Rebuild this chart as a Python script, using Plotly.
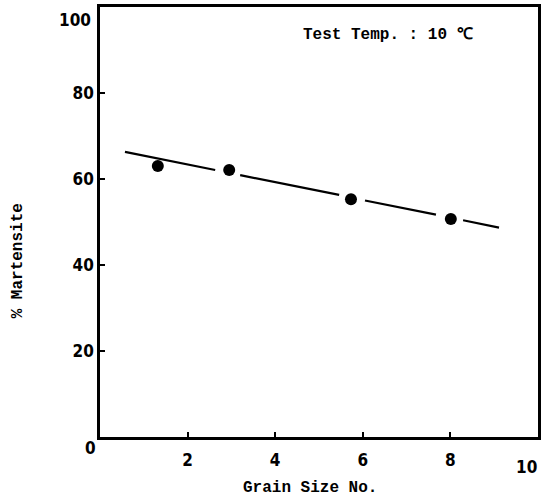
import plotly.graph_objects as go

# Measured points: grain size number vs. % martensite
grain_size = [1.32, 2.95, 5.73, 8.01]
martensite = [63.0, 62.1, 55.3, 50.7]

# Fitted trend line, drawn in pieces that stop short of each marker
fit_x = [0.57, 2.63, None, 3.20, 5.46, None, 6.05, 7.67, None, 8.29, 9.11]
fit_y = [66.3, 62.1, None, 60.9, 56.3, None, 55.0, 51.7, None, 50.4, 48.7]

x_range = [0, 10]
y_range = [0, 100]
x_ticks = [2, 4, 6, 8]
y_ticks = [20, 40, 60, 80]

mono = "Liberation Mono, Courier New, monospace"
num_family = "Liberation Sans Narrow, DejaVu Sans Condensed, Arial Narrow, sans-serif"
tickfont = dict(family=num_family, size=17, color="black")

fig = go.Figure()
fig.add_trace(go.Scatter(x=fit_x, y=fit_y, mode="lines",
                         line=dict(color="black", width=2.2),
                         connectgaps=False, hoverinfo="skip"))
fig.add_trace(go.Scatter(x=grain_size, y=martensite, mode="markers",
                         marker=dict(color="black", size=12)))

axis_common = dict(showgrid=False, zeroline=False, showline=True, mirror=True,
                   linecolor="black", linewidth=2.5, ticks="inside", ticklen=5,
                   tickwidth=2, tickcolor="black", tickfont=tickfont,
                   ticklabeloverflow="allow", automargin=False)

fig.update_xaxes(range=x_range, tickvals=x_ticks,
                 ticktext=[f"<b>{v}</b>" for v in x_ticks],
                 ticklabelstandoff=6, **axis_common)
fig.update_yaxes(range=y_range, tickvals=y_ticks,
                 ticktext=[f"<b>{v}</b>" for v in y_ticks], **axis_common)

# End-of-range labels sit just inside the frame edges
endfont = dict(family=num_family, size=17, color="black")
fig.add_annotation(text=f"<b>{y_range[1]}</b>", xref="paper", yref="y",
                   x=0, y=y_range[1], xanchor="right", yanchor="middle",
                   xshift=-7, yshift=-13, showarrow=False, font=endfont)
fig.add_annotation(text=f"<b>{y_range[0]}</b>", xref="paper", yref="y",
                   x=0, y=y_range[0], xanchor="center", yanchor="middle",
                   xshift=-10, yshift=-11, showarrow=False, font=endfont)
fig.add_annotation(text=f"<b>{x_range[1]}</b>", xref="x", yref="paper",
                   x=x_range[1], y=0, xanchor="center", yanchor="middle",
                   xshift=-12, yshift=-30, showarrow=False, font=endfont)

fig.add_annotation(text="<b>Test Temp. : 10 ℃</b>", xref="paper", yref="paper",
                   x=0.46, y=0.935, xanchor="left", yanchor="middle", showarrow=False,
                   font=dict(family=mono, size=16, color="black"))
fig.add_annotation(text="<b>Grain Size No.</b>", xref="paper", yref="paper",
                   x=0.48, y=-0.118, xanchor="center", yanchor="middle", showarrow=False,
                   font=dict(family=mono, size=16, color="black"))
fig.add_annotation(text="<b>% Martensite</b>", xref="paper", yref="paper",
                   x=-0.188, y=0.41, xanchor="center", yanchor="middle", showarrow=False,
                   textangle=-90, font=dict(family=mono, size=16, color="black"))

fig.update_layout(width=547, height=502, showlegend=False,
                  plot_bgcolor="white", paper_bgcolor="white",
                  margin=dict(l=100, r=9, t=7, b=65, autoexpand=False))

fig.write_html("out.html")
